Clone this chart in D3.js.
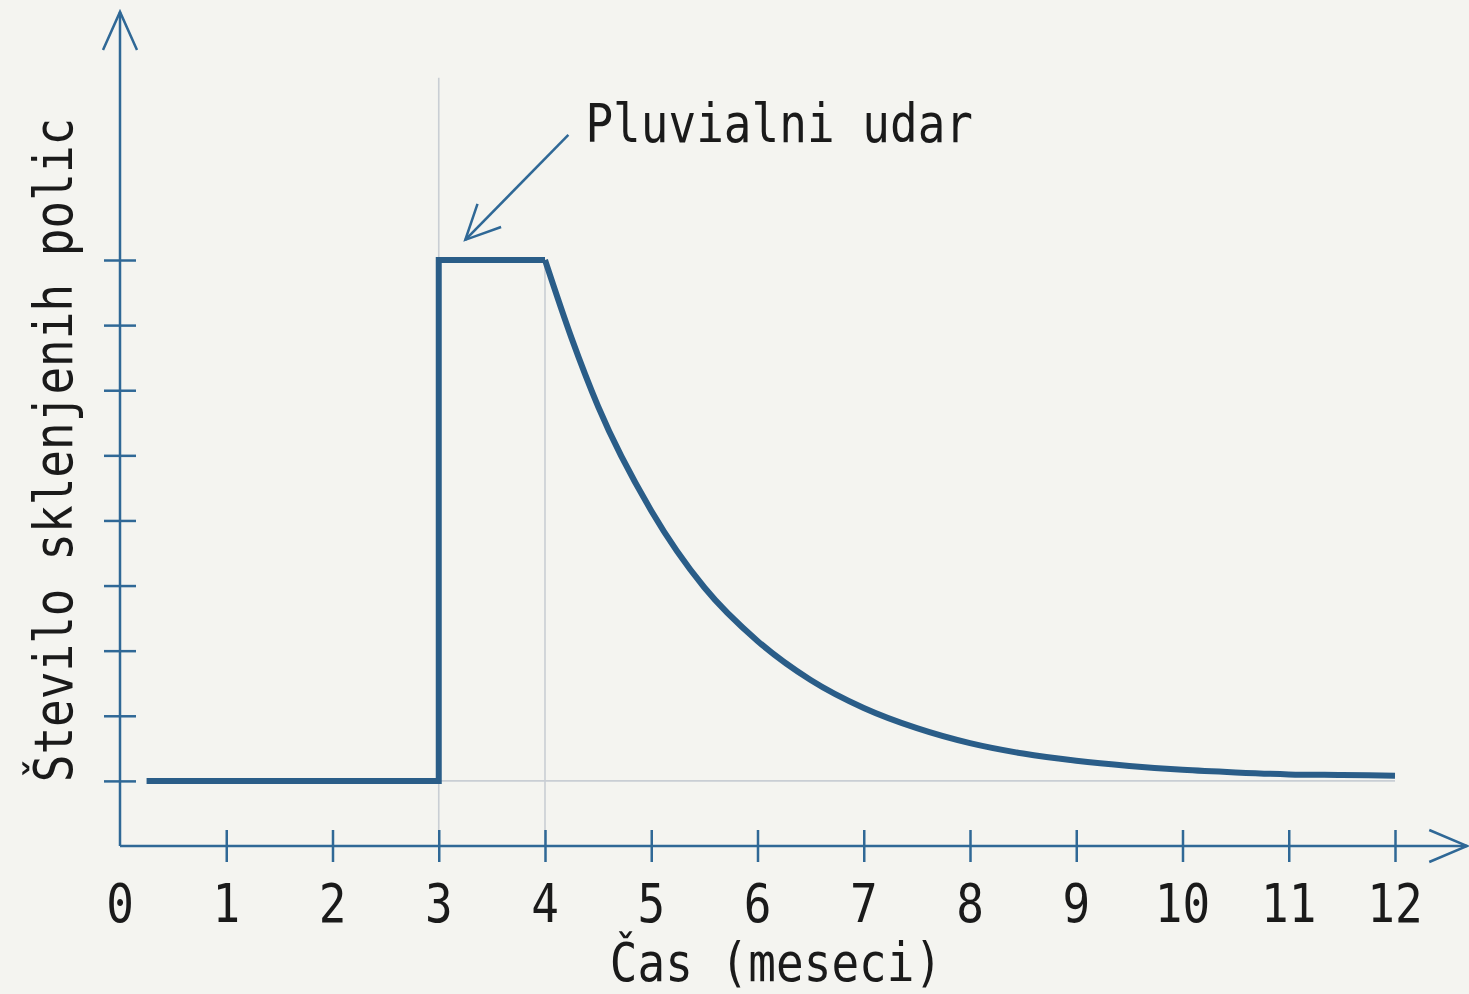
<!DOCTYPE html>
<meta charset="utf-8">
<title>Pluvialni udar</title>
<style>
body { margin: 0; background: #f4f4f0; }
svg { display: block; }
text { font-family: "DejaVu Sans Mono", monospace; fill: #1a1a1a; }
.axis path.domain { display: none; }
.axis line { stroke: #2f6896; stroke-width: 2.5px; }
.guide { stroke: #c9ced4; stroke-width: 1.6px; fill: none; }
.curve { fill: none; stroke: #2a5d88; stroke-width: 6px; stroke-linejoin: miter; }
.arrow { fill: none; stroke: #2f6896; stroke-width: 2.5px; }
</style>
<svg id="chart" width="1469" height="994"></svg>
<script src="https://cdn.jsdelivr.net/npm/d3@7"></script>
<script>
// months on x axis, tick labels 0..12
const months = d3.range(0, 13);
// y ticks (no labels)
const yTicks = [1, 2, 3, 4, 5, 6, 7, 8, 9];

// step part: flat, jump at month 3, plateau until month 4
const stepX = [0.25, 3, 3, 4];
const stepY = [1, 1, 9, 9];

// decay after month 4
const decayX = [4, 4.25, 4.5, 5, 5.5, 6, 6.5, 7, 7.5, 8, 8.5, 9, 9.5, 10, 10.5, 11, 11.5, 12];
const decayY = [9, 7.8, 6.75, 5.15, 3.97, 3.15, 2.55, 2.12, 1.81, 1.58, 1.42, 1.31, 1.23, 1.17, 1.13, 1.1, 1.09, 1.08];

// annotation: label position, arrow start and tip (data units)
const noteText = "Pluvialni udar";
const noteAt = [4.38, 10.81];
const arrowFrom = [4.22, 10.92];
const arrowTo = [3.25, 9.31];

const xLabel = "Čas (meseci)";
const yLabel = "Število sklenjenih polic";

let svg = d3.select("#chart");

let x = d3.scaleLinear().domain([0, 12]).range([120, 1395]),
    y = d3.scaleLinear().domain([0, 9]).range([846, 260]);

let xTop = 12.68, yTop = 12.81;
let stretch = "scale(1,1.15)";

// guides
svg.append("line").attr("class", "guide")
  .attr("x1", x(3)).attr("x2", x(3)).attr("y1", y(11.8)).attr("y2", y(0));
svg.append("line").attr("class", "guide")
  .attr("x1", x(4)).attr("x2", x(4)).attr("y1", y(9)).attr("y2", y(0));
svg.append("line").attr("class", "guide")
  .attr("x1", x(3)).attr("x2", x(12)).attr("y1", y(1)).attr("y2", y(1));

// axes lines with open arrows
let ax = svg.append("g").attr("class", "axis");
ax.append("line").attr("x1", x(0)).attr("x2", x(0)).attr("y1", y(0)).attr("y2", y(yTop));
ax.append("line").attr("x1", x(0)).attr("x2", x(xTop)).attr("y1", y(0)).attr("y2", y(0));
ax.append("path").attr("class", "arrow")
  .attr("d", "M" + (x(0) - 17) + "," + (y(yTop) + 38) + "L" + x(0) + "," + y(yTop) + "L" + (x(0) + 17) + "," + (y(yTop) + 38));
ax.append("path").attr("class", "arrow")
  .attr("d", "M" + (x(xTop) - 38) + "," + (y(0) - 16) + "L" + x(xTop) + "," + y(0) + "L" + (x(xTop) - 38) + "," + (y(0) + 16));

// x axis ticks
let xAxis = svg.append("g")
  .attr("class", "axis")
  .attr("transform", "translate(0," + y(0) + ")")
  .call(d3.axisBottom(x).tickValues(months).tickSize(16).tickFormat(""));
xAxis.selectAll(".tick line").attr("y1", -16)
  .filter(d => d === 0).remove();

svg.append("g").selectAll("text")
  .data(months)
  .join("text")
    .attr("text-anchor", "middle")
    .attr("font-size", 46)
    .attr("transform", d => "translate(" + x(d) + ",922) " + stretch)
    .text(d => d);

// y axis ticks
let yAxis = svg.append("g")
  .attr("class", "axis")
  .attr("transform", "translate(" + x(0) + ",0)")
  .call(d3.axisLeft(y).tickValues(yTicks).tickSize(16).tickFormat(""));
yAxis.selectAll(".tick line").attr("x1", 16);

// axis titles
svg.append("text")
  .attr("text-anchor", "middle")
  .attr("font-size", 46)
  .attr("transform", "translate(776,981) " + stretch)
  .text(xLabel);

svg.append("text")
  .attr("text-anchor", "middle")
  .attr("font-size", 46)
  .attr("transform", "translate(72,450) rotate(-90) " + stretch)
  .text(yLabel);

// the curve
let step = d3.line().x(d => x(d[0])).y(d => y(d[1]));
svg.append("path").attr("class", "curve")
  .attr("d", step(d3.zip(stepX, stepY)));

let decay = d3.line().curve(d3.curveMonotoneX).x(d => x(d[0])).y(d => y(d[1]));
svg.append("path").attr("class", "curve")
  .attr("d", decay(d3.zip(decayX, decayY)));

// annotation
let tip = [x(arrowTo[0]), y(arrowTo[1])], from = [x(arrowFrom[0]), y(arrowFrom[1])];
svg.append("path").attr("class", "arrow")
  .attr("d", "M" + from + "L" + tip);
let ang = Math.atan2(from[1] - tip[1], from[0] - tip[0]);
let head = [ang - 0.45, ang + 0.45].map(a => [tip[0] + 38 * Math.cos(a), tip[1] + 38 * Math.sin(a)]);
svg.append("path").attr("class", "arrow")
  .attr("d", "M" + head[0] + "L" + tip + "L" + head[1]);

svg.append("text")
  .attr("font-size", 46)
  .attr("transform", "translate(" + x(noteAt[0]) + "," + y(noteAt[1]) + ") " + stretch)
  .text(noteText);
</script>
